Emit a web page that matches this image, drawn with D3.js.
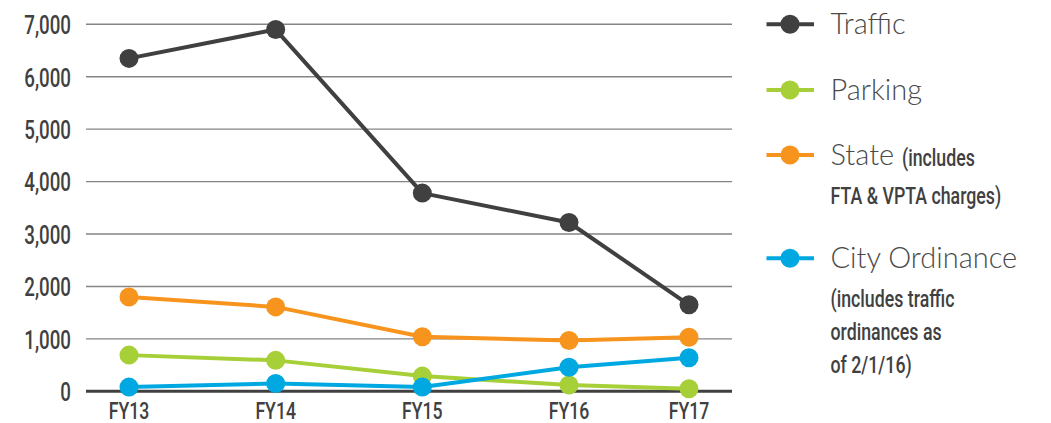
<!DOCTYPE html>
<html>
<head>
<meta charset="utf-8">
<script src="https://cdn.jsdelivr.net/npm/d3@7"></script>
<style>
  html, body { margin: 0; padding: 0; background: #fff; }
  svg { display: block; }
  .num { font-family: "Roboto", "DejaVu Sans", sans-serif; font-weight: 500; }
  .leg { font-family: "Lato", "Open Sans", sans-serif; font-weight: 300; }
</style>
</head>
<body>
<svg id="chart" width="1051" height="423"></svg>
<script>
// ---- data ----
const categories = ["FY13", "FY14", "FY15", "FY16", "FY17"];
const traffic = [6350, 6900, 3780, 3220, 1650];
const parking = [690, 590, 290, 120, 50];
const state = [1800, 1610, 1040, 970, 1030];
const cityOrdinance = [80, 150, 80, 460, 640];
const yTicks = [0, 1000, 2000, 3000, 4000, 5000, 6000, 7000];
const seriesNames = ["Traffic", "Parking", "State", "City Ordinance"];

// ---- layout ----
const plot = { left: 86, right: 732, top: 24.3, bottom: 391.3 };
const colors = {
  "Traffic": "#404041",
  "Parking": "#a6cf38",
  "State": "#f7941d",
  "City Ordinance": "#00a8e1"
};
const seriesData = {
  "Traffic": traffic,
  "Parking": parking,
  "State": state,
  "City Ordinance": cityOrdinance
};
const CONDENSE = 0.72;

const svg = d3.select("#chart");

const y = d3.scaleLinear().domain([0, 7000]).range([plot.bottom, plot.top]);
// category positions (last category sits closer, as in the original)
const xIdx = d3.scaleLinear().domain([0, 3, 4]).range([129, 569, 689]);
const x = c => xIdx(categories.indexOf(c));

function condensed(g, px, py, str, size, weight, anchor, sx) {
  return g.append("text")
    .attr("class", "num")
    .attr("transform", `translate(${px},${py}) scale(${sx},1)`)
    .attr("text-anchor", anchor)
    .attr("font-size", size)
    .attr("font-weight", weight)
    .attr("fill", "#404041")
    .text(str);
}

// grid lines
svg.append("g").selectAll("line")
  .data(yTicks.filter(t => t > 0))
  .join("line")
  .attr("x1", plot.left).attr("x2", plot.right)
  .attr("y1", d => y(d)).attr("y2", d => y(d))
  .attr("stroke", "#858585").attr("stroke-width", 1.4);

// y axis labels
const yAxis = d3.axisLeft(y).tickValues(yTicks).tickSize(0).tickPadding(0)
  .tickFormat(d3.format(","));
const gy = svg.append("g").attr("transform", `translate(${plot.left - 15},0)`).call(yAxis);
gy.select(".domain").remove();
gy.selectAll("text")
  .attr("class", "num")
  .attr("fill", "#404041")
  .attr("font-size", 26)
  .attr("dy", "0.36em")
  .attr("transform", `scale(${CONDENSE},1)`);

// baseline
svg.append("line")
  .attr("x1", plot.left).attr("x2", plot.right)
  .attr("y1", y(0)).attr("y2", y(0))
  .attr("stroke", "#404041").attr("stroke-width", 3);

// x axis labels
const gx = svg.append("g");
categories.forEach(c => condensed(gx, x(c), 418.5, c, 24.5, 500, "middle", CONDENSE));

// series
const drawOrder = ["Traffic", "State", "Parking", "City Ordinance"];
const line = d3.line().x((d, i) => xIdx(i)).y(d => y(d));
drawOrder.forEach(name => {
  const vals = seriesData[name];
  const g = svg.append("g");
  g.append("path")
    .attr("d", line(vals))
    .attr("fill", "none")
    .attr("stroke", colors[name])
    .attr("stroke-width", 4)
    .attr("stroke-linejoin", "round");
  g.selectAll("circle")
    .data(vals)
    .join("circle")
    .attr("cx", (d, i) => xIdx(i))
    .attr("cy", d => y(d))
    .attr("r", 9.5)
    .attr("fill", colors[name]);
});

// legend
const legendRows = [
  { name: "Traffic", y: 24.3, label: "Traffic", extra: null, sub: [] },
  { name: "Parking", y: 90, label: "Parking", extra: null, sub: [] },
  { name: "State", y: 155, label: "State", extra: "(includes", sub: ["FTA & VPTA charges)"] },
  { name: "City Ordinance", y: 258.3, label: "City Ordinance", extra: null,
    sub: ["(includes traffic", "ordinances as", "of 2/1/16)"] }
];
const lg = svg.append("g");
legendRows.forEach(r => {
  const g = lg.append("g");
  g.append("line")
    .attr("x1", 766.5).attr("x2", 814)
    .attr("y1", r.y).attr("y2", r.y)
    .attr("stroke", colors[r.name]).attr("stroke-width", 4);
  g.append("circle")
    .attr("cx", 790).attr("cy", r.y).attr("r", 9.5)
    .attr("fill", colors[r.name]);
  g.append("text")
    .attr("class", "leg")
    .attr("x", 830.5).attr("y", r.y + 10)
    .attr("font-size", 29)
    .attr("fill", "#4a4a4a")
    .text(r.label);
  if (r.extra) {
    condensed(g, 902, r.y + 10.5, r.extra, 24, 700, "start", 0.74);
  }
  r.sub.forEach((s, i) => {
    condensed(g, 830.5, r.y + 48.5 + i * 33, s, 24, 700, "start", 0.74);
  });
});
</script>
</body>
</html>
